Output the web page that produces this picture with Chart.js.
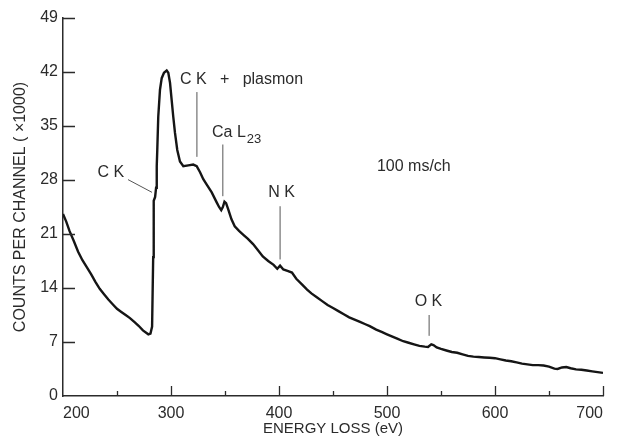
<!DOCTYPE html>
<html lang="en">
<head>
<meta charset="UTF-8" />
<title>Energy loss spectrum</title>
<script src="https://cdn.jsdelivr.net/npm/chart.js"></script>
<style>
  body { margin: 0; background: #fff; }
  canvas { display: block; }
</style>
</head>
<body>
<canvas id="eels" width="618" height="436"></canvas>
<script>
// energy loss (eV) and counts per channel (x1000)
const energy = [
  200, 203, 206, 210, 214, 218, 222, 226, 230, 234,
  238, 242, 246, 250, 254, 258, 262, 266, 270, 274,
  277, 279, 281, 282.5, 283.5, 284, 285.3, 286.2, 286.8, 287.3,
  288.2, 289.8, 291.4, 293.5, 296, 297.5, 299.1, 300.6, 302.1, 303.7,
  305.8, 308.3, 311.4, 316, 320.6, 323.8, 326.9, 329.9, 333.1, 337.7,
  342.3, 344.5, 346.5, 348, 349.5, 351, 353, 356, 359, 363,
  367, 371, 376, 380, 385, 390, 395, 398.4, 401, 404,
  408.5, 412, 416, 421, 426, 430, 435, 440, 445, 450,
  455, 460, 465, 470, 475, 480, 484, 490, 495, 500,
  505, 510, 515, 520, 525, 530, 535, 538, 541, 543,
  546, 550, 555, 560, 565, 570, 575, 580, 585, 590,
  595, 600, 605, 610, 615, 620, 625, 630, 635, 640,
  645, 650, 655, 658, 662, 666, 670, 675, 680, 685,
  690, 695, 700
];
const counts = [
  23.6, 22.6, 21.4, 20.1, 18.7, 17.6, 16.7, 15.8, 14.8, 13.9,
  13.2, 12.5, 11.9, 11.3, 10.9, 10.5, 10.1, 9.6, 9.1, 8.5,
  8.2, 8.0, 8.1, 9.0, 18.0, 25.3, 25.8, 27.0, 29.8, 31.9,
  36.2, 39.7, 41.2, 41.9, 42.2, 41.9, 40.6, 38.4, 36.2, 34.1,
  31.9, 30.4, 29.8, 29.9, 30.0, 29.8, 29.0, 28.1, 27.4, 26.4,
  25.1, 24.5, 24.1, 24.5, 25.2, 25.0, 24.2, 22.9, 22.0, 21.4,
  20.9, 20.4, 19.7, 19.0, 18.1, 17.5, 17.0, 16.5, 16.9, 16.4,
  16.2, 16.0, 15.2, 14.5, 13.8, 13.3, 12.8, 12.3, 11.8, 11.4,
  11.0, 10.6, 10.2, 9.9, 9.6, 9.3, 9.05, 8.6, 8.3, 8.0,
  7.7, 7.4, 7.1, 6.9, 6.7, 6.5, 6.4, 6.35, 6.7, 6.6,
  6.3, 6.1, 5.9, 5.7, 5.6, 5.4, 5.2, 5.1, 5.05, 5.0,
  4.95, 4.9, 4.75, 4.6, 4.5, 4.35, 4.2, 4.1, 4.0, 4.0,
  3.95, 3.8, 3.55, 3.5, 3.7, 3.75, 3.6, 3.45, 3.4, 3.3,
  3.2, 3.1, 3.0
];

// edge labels, placed in data units (eV, counts)
const noteText  = ['C K', 'C K   +   plasmon', 'Ca L', 'N K', 'O K', '100 ms/ch'];
const noteSub   = ['', '', '23', '', '', ''];
const noteAt    = [[244.4, 29.0], [308.3, 41.0], [338, 34.1], [402.3, 26.4], [538.4, 12.2], [490.7, 29.7]];
const noteAlign = ['center', 'left', 'left', 'center', 'center', 'left'];
const leaders   = [
  [[260.2, 28.05], [282.4, 26.4]],
  [[324, 39.4], [324, 31.0]],
  [[348, 32.6], [348, 25.9]],
  [[401, 24.6], [401, 17.7]],
  [[539, 10.5], [539, 7.8]]
];

const ink = '#2b2b2b';
const sans = '"Liberation Sans", Arial, sans-serif';

// ticks point into the plot, long ones at every 100 eV
const inwardTicks = {
  id: 'inwardTicks',
  afterDraw(chart) {
    const { ctx, chartArea: a, scales: { x, y } } = chart;
    ctx.save();
    ctx.strokeStyle = ink;
    ctx.lineWidth = 1.3;
    ctx.beginPath();
    y.ticks.forEach(t => {
      if (t.value <= y.min) return;
      const py = Math.round(y.getPixelForValue(t.value)) + 0.5;
      ctx.moveTo(a.left, py);
      ctx.lineTo(a.left + 12, py);
    });
    x.ticks.forEach(t => {
      if (t.value <= x.min) return;
      const p = Math.round(x.getPixelForValue(t.value)) + 0.5;
      const len = t.value % 100 === 0 ? 10 : 5;
      ctx.moveTo(p, a.bottom);
      ctx.lineTo(p, a.bottom - len);
    });
    ctx.stroke();
    ctx.restore();
  }
};

const notes = {
  id: 'notes',
  afterDraw(chart) {
    const { ctx, scales: { x, y } } = chart;
    ctx.save();
    ctx.strokeStyle = '#555';
    ctx.lineWidth = 1;
    ctx.beginPath();
    leaders.forEach(([p, q]) => {
      ctx.moveTo(x.getPixelForValue(p[0]), y.getPixelForValue(p[1]));
      ctx.lineTo(x.getPixelForValue(q[0]), y.getPixelForValue(q[1]));
    });
    ctx.stroke();

    ctx.fillStyle = ink;
    ctx.textBaseline = 'middle';
    noteText.forEach((txt, i) => {
      const px = x.getPixelForValue(noteAt[i][0]);
      const py = y.getPixelForValue(noteAt[i][1]);
      ctx.font = '16px ' + sans;
      ctx.textAlign = noteAlign[i];
      ctx.fillText(txt, px, py);
      if (noteSub[i]) {
        const w = ctx.measureText(txt).width;
        ctx.font = '13px ' + sans;
        ctx.textAlign = 'left';
        ctx.fillText(noteSub[i], px + w + 1, py + 6);
      }
    });
    ctx.restore();
  }
};

new Chart(document.getElementById('eels'), {
  type: 'line',
  data: {
    datasets: [{
      data: energy.map((e, i) => ({ x: e, y: counts[i] })),
      borderColor: '#151515',
      borderWidth: 2.4,
      pointRadius: 0,
      tension: 0,
      fill: false
    }]
  },
  options: {
    responsive: false,
    animation: false,
    layout: { padding: { top: 18, right: 15, left: 0, bottom: 0 } },
    plugins: { legend: { display: false }, tooltip: { enabled: false } },
    scales: {
      x: {
        type: 'linear',
        min: 200, max: 700,
        grid: { display: false, drawTicks: false },
        border: { color: ink, width: 1.5 },
        ticks: {
          stepSize: 50,
          autoSkip: false,
          maxRotation: 0,
          align: 'inner',
          padding: 8,
          color: ink,
          font: { family: sans, size: 16 },
          callback: v => (v % 100 === 0 ? String(v) : '')
        },
        title: {
          display: true,
          text: 'ENERGY LOSS (eV)',
          color: ink,
          font: { family: sans, size: 15, lineHeight: 1 },
          padding: 0
        },
        afterFit: s => { s.height = 40; }
      },
      y: {
        min: 0, max: 49,
        grid: { display: false, drawTicks: false },
        border: { color: ink, width: 1.5 },
        ticks: {
          stepSize: 7,
          padding: 5,
          color: ink,
          font: { family: sans, size: 16 }
        },
        title: {
          display: true,
          text: 'COUNTS PER CHANNEL ( \u00d71000)',
          color: ink,
          font: { family: sans, size: 16, lineHeight: 1 },
          padding: { top: 13, bottom: 0 }
        },
        afterFit: s => { s.width = 63; }
      }
    }
  },
  plugins: [inwardTicks, notes]
});
</script>
</body>
</html>
